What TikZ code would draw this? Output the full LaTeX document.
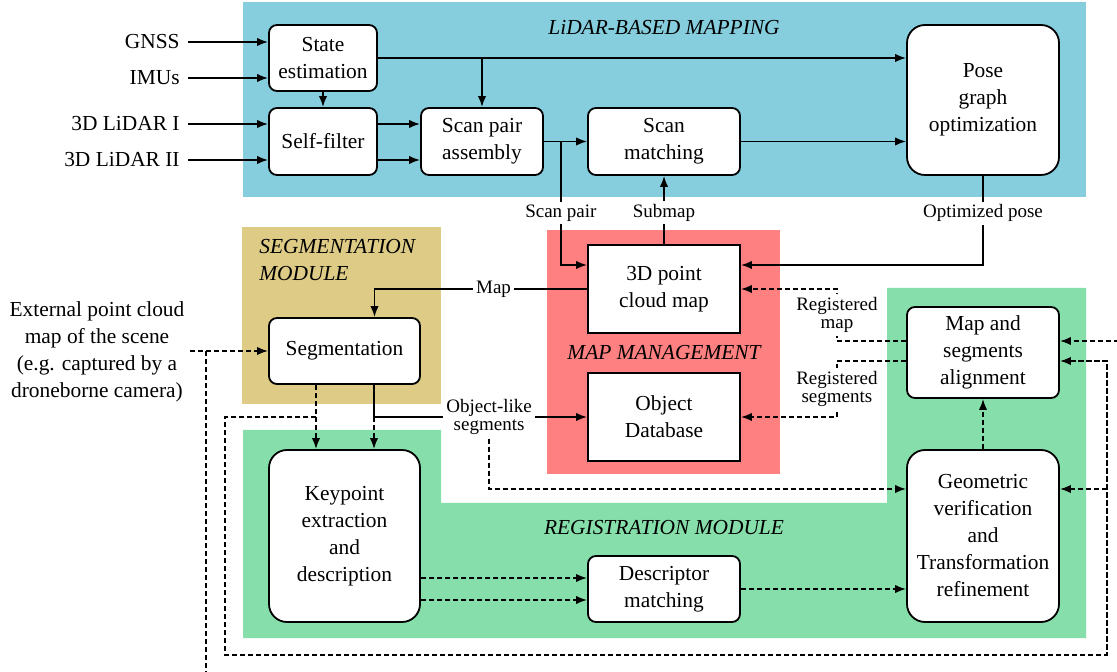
\documentclass[tikz,border=0pt]{standalone}
\usepackage{fontspec}
\setmainfont{Liberation Serif}
\usetikzlibrary{arrows.meta,calc}
\definecolor{cblue}{RGB}{134,205,221}
\definecolor{ctan}{RGB}{221,203,134}
\definecolor{cred}{RGB}{255,128,128}
\definecolor{cgreen}{RGB}{134,223,170}
\newcommand{\mainfs}{\fontsize{10.7}{13.5}\selectfont}
\newcommand{\lblfs}{\fontsize{9.5}{9}\selectfont}
\tikzset{
  rnd/.style={draw,line width=0.9pt,fill=white,rounded corners=4pt,align=center,inner sep=0pt,font=\mainfs},
  bigrnd/.style={rnd,rounded corners=9pt},
  sq/.style={draw,line width=0.9pt,fill=white,align=center,inner sep=0pt,font=\mainfs},
  inlbl/.style={anchor=east,inner sep=4pt,font=\mainfs},
  lbl/.style={fill=white,inner sep=1.5pt,align=center,font=\lblfs},
  ttl/.style={font=\mainfs\itshape,inner sep=0pt},
  arr/.style={line width=0.9pt,-{Latex[length=5.5pt,width=4.2pt]}},
  darr/.style={arr,dash pattern=on 2.6pt off 1.4pt},
}
\begin{document}
\begin{tikzpicture}[x=0.5pt,y=-0.5pt]
\useasboundingbox (0,0) rectangle (1117,672);
\clip (0,0) rectangle (1117,672);
% regions
\fill[cblue] (243,2) rectangle (1086,197);
\fill[ctan] (242,227) rectangle (441,404);
\fill[cred] (547,230) rectangle (780,474);
\fill[cgreen] (243,430) -- (441,430) -- (441,503) -- (887,503) -- (887,288) -- (1086,288) -- (1086,638) -- (243,638) -- cycle;
% titles
\node[ttl] (t1) at (664,28) {LiDAR-BASED MAPPING};
\node[ttl,anchor=west,align=left] (t2) at (259,260) {SEGMENTATION\\MODULE};
\node[ttl] (t3) at (664,353) {MAP MANAGEMENT};
\node[ttl] (t4) at (664,528) {REGISTRATION MODULE};
% nodes
\node[rnd,minimum width=54pt,minimum height=33pt] (se) at (323,58) {State\\estimation};
\node[rnd,minimum width=54pt,minimum height=33.5pt] (sf) at (323,141.5) {Self-filter};
\node[rnd,minimum width=61pt,minimum height=33.5pt] (spa) at (482,141.5) {Scan pair\\assembly};
\node[rnd,minimum width=76pt,minimum height=33.5pt] (sm) at (664,141.5) {Scan\\matching};
\node[bigrnd,minimum width=76pt,minimum height=75pt] (pg) at (983,100) {Pose\\graph\\optimization};
\node[sq,minimum width=76pt,minimum height=44pt] (map) at (664,289) {3D point\\cloud map};
\node[sq,minimum width=76pt,minimum height=44pt] (odb) at (664,417) {Object\\Database};
\node[rnd,minimum width=75.5pt,minimum height=33pt] (seg) at (344.5,351) {Segmentation};
\node[bigrnd,minimum width=75.5pt,minimum height=86pt] (kp) at (344.5,536) {Keypoint\\extraction\\and\\description};
\node[rnd,minimum width=76pt,minimum height=33pt] (desc) at (664,589) {Descriptor\\matching};
\node[bigrnd,minimum width=76pt,minimum height=86pt] (geo) at (983,536) {Geometric\\verification\\and\\Transformation\\refinement};
\node[rnd,minimum width=76pt,minimum height=45.5pt] (aln) at (983,352.5) {Map and\\segments\\alignment};
% inputs
\node[inlbl] (gnss) at (188,42) {GNSS};
\node[inlbl] (imu) at (188,78) {IMUs};
\node[inlbl] (l1) at (188,124) {3D LiDAR I};
\node[inlbl] (l2) at (188,160) {3D LiDAR II};
\node[align=center,font=\mainfs,inner sep=0pt] (ext) at (97,352) {External point cloud\\map of the scene\\(e.g. captured by a\\droneborne camera)};
% solid connectors
\draw[arr] (gnss.east) -- (gnss.east -| se.west);
\draw[arr] (imu.east) -- (imu.east -| se.west);
\draw[arr] (l1.east) -- (l1.east -| sf.west);
\draw[arr] (l2.east) -- (l2.east -| sf.west);
\draw[arr] (se.south) -- (sf.north);
\draw[arr] (se.east) -- (se.east -| pg.west);
\draw[arr] (spa.north |- se.east) -- (spa.north);
\draw[arr] (l1.east -| sf.east) -- (l1.east -| spa.west);
\draw[arr] (l2.east -| sf.east) -- (l2.east -| spa.west);
\draw[arr] (spa.east) -- (sm.west);
\draw[arr] (sm.east) -- (sm.east -| pg.west);
\coordinate (spj) at ($(spa.east)+(17,0)$);
\draw[arr] (spj) |- node[lbl,pos=0.29]{Scan pair} ($(map.west)+(0,-24)$);
\draw[arr] (map.north) -- node[lbl,pos=0.46]{Submap} (sm.south);
\draw[arr] (pg.south) |- node[lbl,pos=0.21]{Optimized pose} ($(map.east)+(0,-24)$);
\draw[arr] (map.west) -| node[lbl,pos=0.22]{Map} ($(seg.north)+(30,0)$);
\coordinate (sj) at ($(seg.south)+(29.5,0)$);
\draw[arr] (sj) -- (sj |- odb.west) -- node[lbl,pos=0.54] (ols) {Object-like\\segments} (odb.west);
% dashed connectors
\draw[darr] (sj |- odb.west) -- (sj |- kp.north);
\draw[darr] ($(seg.south)+(-28.5,0)$) -- ($(kp.north)+(-28.5,0)$);
\draw[darr] (ols.south) |- ($(geo.west)+(0,-47)$);
\draw[darr] ($(seg.south)+(-28.5,32)$) -| ($(kp.south west)+(-43,32)$) -| ($(aln.east)+(47,8.5)$) -- ($(aln.east)+(0,8.5)$);
\draw[darr] ($(geo.east)+(47,-47)$) -- ($(geo.east)+(0,-47)$);
\coordinate (e0) at ($(seg.west)+(-78,0)$);
\draw[darr] (e0) -- (seg.west);
\draw[darr] ($(e0)+(16,0)$) |- ($(aln.east)+(80,400)$) |- ($(aln.east)+(0,-11.5)$);
\coordinate (d1) at ($(desc.west)+(0,-11)$);
\coordinate (d2) at ($(desc.west)+(0,11)$);
\draw[darr] (d1 -| kp.east) -- (d1);
\draw[darr] (d2 -| kp.east) -- (d2);
\draw[darr] (desc.east) -- (desc.east -| geo.west);
\draw[darr] (geo.north) -- (aln.south);
\coordinate (rm) at ($(map.east)+(96,0)$);
\coordinate (a1) at ($(aln.west)+(0,-11.5)$);
\coordinate (a2) at ($(aln.west)+(0,8.5)$);
\draw[darr] (a1) -- (a1 -| rm) -- node[lbl]{Registered\\map} (rm) -- (map.east);
\draw[darr] (a2) -- (a2 -| rm) -- node[lbl]{Registered\\segments} (rm |- odb.east) -- (odb.east);
\end{tikzpicture}
\end{document}
